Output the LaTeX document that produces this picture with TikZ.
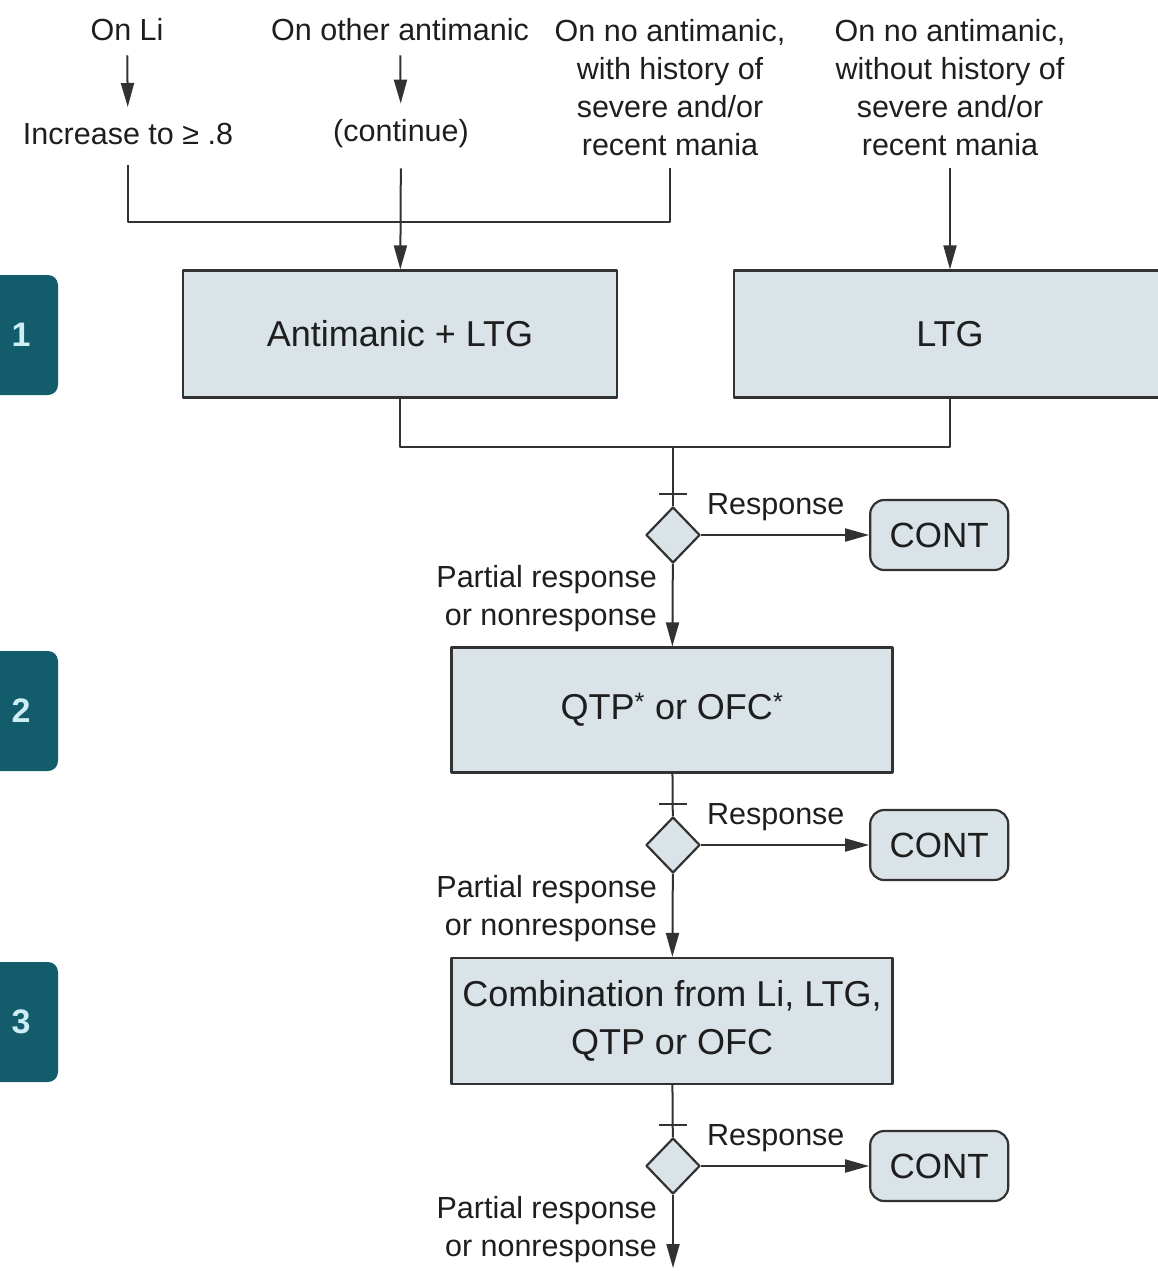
\documentclass[tikz,border=0pt]{standalone}
\usepackage{fontspec}
\setmainfont{Liberation Sans}
\usetikzlibrary{arrows.meta,shapes.geometric,positioning}

\begin{document}
\begin{tikzpicture}[x=1pt, y=-1pt, line join=round,
    lbl/.style={font=\fontsize{30.5}{38}\selectfont, align=center, text=inkgray, inner sep=0pt},
    stepbox/.style={draw=edgegray, line width=2.2pt, fill=boxblue, font=\fontsize{36}{48}\selectfont, align=center, text=inkgray},
    contbox/.style={draw=edgegray, line width=2.2pt, fill=boxblue, rounded corners=14pt, minimum width=138pt, minimum height=70pt, inner sep=0pt, font=\fontsize{35}{40}\selectfont, text=inkgray},
    choice/.style={diamond, draw=edgegray, line width=2.2pt, fill=boxblue, minimum width=54pt, minimum height=56pt, inner sep=0pt},
    badge/.style={fill=badgeteal, rounded corners=10pt, minimum width=100pt, minimum height=120pt, inner sep=0pt},
    badgenum/.style={font=\fontsize{34}{34}\selectfont\bfseries, text=badgetext, inner sep=0pt},
    link/.style={draw=edgegray, line width=2pt},
    arr/.style={-{Triangle[length=24pt,width=13pt]}}]
  \definecolor{inkgray}{RGB}{30,30,30}
  \definecolor{edgegray}{RGB}{50,50,50}
  \definecolor{boxblue}{RGB}{218,227,231}
  \definecolor{badgeteal}{RGB}{18,92,108}
  \definecolor{badgetext}{RGB}{205,238,245}
  \clip (0,0) rectangle (1158,1271);
  % stage badges
  \node[badge, label={[badgenum, xshift=13pt]center:1}] (s1) at (8,335) {};
  \node[badge, label={[badgenum, xshift=13pt]center:2}] (s2) at (8,711) {};
  \node[badge, label={[badgenum, xshift=13pt]center:3}] (s3) at (8,1022) {};
  % entry situations
  \node[lbl] (onli) at (127,30) {On Li};
  \node[lbl] (incr) at (128,134) {Increase to ≥ .8};
  \node[lbl] (other) at (400,30) {On other antimanic};
  \node[lbl] (cont0) at (401,134) {(continue)};
  \node[lbl] (hist) at (670,88) {On no antimanic,\\with history of\\severe and/or\\recent mania};
  \node[lbl] (nohist) at (950,88) {On no antimanic,\\without history of\\severe and/or\\recent mania};
  % treatment steps
  \node[stepbox, minimum width=434pt, minimum height=127pt] (combo) at (400,334) {Antimanic + LTG};
  \node[stepbox, minimum width=432pt, minimum height=127pt] (ltg) at (950,334) {LTG};
  \node[stepbox, minimum width=441pt, minimum height=125pt] (qtp) at (672,710) {QTP\textsuperscript{*} or OFC\textsuperscript{*}};
  \node[stepbox, minimum width=441pt, minimum height=126pt] (mix) at (672,1021) {Combination from Li, LTG,\\QTP or OFC};
  % decisions
  \node[choice] (d1) at (673,535) {};
  \node[choice] (d2) at (673,845) {};
  \node[choice] (d3) at (673,1166) {};
  \node[contbox, right=168pt of d1] (c1) {CONT};
  \node[contbox, right=168pt of d2] (c2) {CONT};
  \node[contbox, right=168pt of d3] (c3) {CONT};
  \coordinate (join) at (401,222);
  \coordinate (merge) at (673,447);
  \coordinate (bottom) at (673,1268);
  % connectors
  \draw[link, arr, shorten <=14pt, shorten >=16pt] (onli) -- (incr);
  \draw[link, arr, shorten <=14pt, shorten >=16pt] (other) -- (cont0);
  \draw[link, shorten <=20pt, shorten >=12pt] (incr) |- (join) -| (hist);
  \draw[link, arr, shorten <=20pt] (cont0) -- (combo);
  \draw[link, arr, shorten <=12pt] (nohist) -- (ltg);
  \draw[link] (combo) |- (merge) -| (ltg);
  \draw[link] (merge) -- (d1);
  \draw[link] (qtp) -- (d2);
  \draw[link] (mix) -- (d3);
  \foreach \d in {d1,d2,d3}
    \draw[link] ([yshift=12pt]\d.north) +(-14pt,0) -- +(14pt,0);
  \draw[link, arr] (d1) -- node[lbl, anchor=south west, pos=0, xshift=5pt, yshift=13pt] {Response} (c1);
  \draw[link, arr] (d2) -- node[lbl, anchor=south west, pos=0, xshift=5pt, yshift=13pt] {Response} (c2);
  \draw[link, arr] (d3) -- node[lbl, anchor=south west, pos=0, xshift=5pt, yshift=13pt] {Response} (c3);
  \draw[link, arr] (d1) -- node[lbl, align=right, anchor=north east, pos=0, xshift=-15pt] {Partial response\\or nonresponse} (qtp);
  \draw[link, arr] (d2) -- node[lbl, align=right, anchor=north east, pos=0, xshift=-15pt] {Partial response\\or nonresponse} (mix);
  \draw[link, arr] (d3) -- node[lbl, align=right, anchor=north east, pos=0, xshift=-15pt] {Partial response\\or nonresponse} (bottom);
\end{tikzpicture}
\end{document}
